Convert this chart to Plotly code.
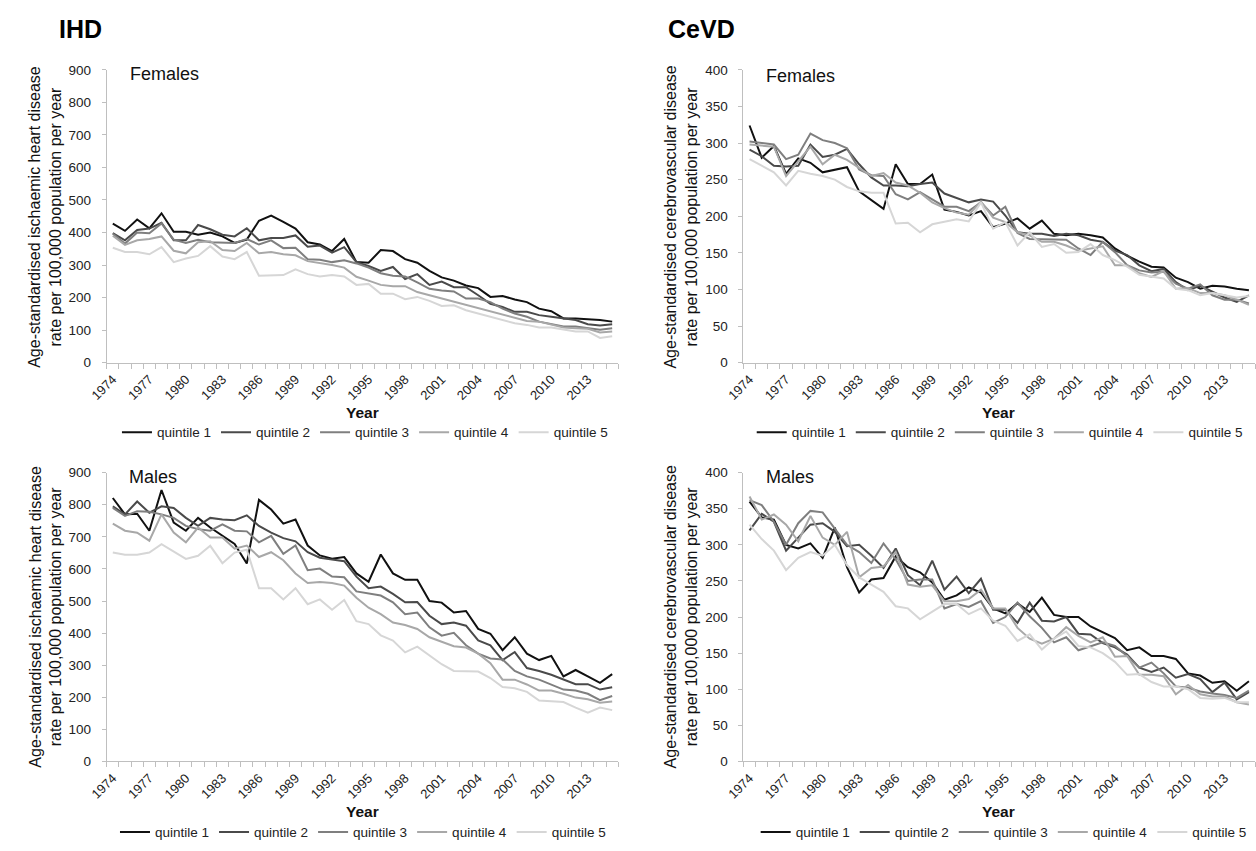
import plotly.graph_objects as go

years = list(range(1974, 2016))
quintile_names = ["quintile 1", "quintile 2", "quintile 3", "quintile 4", "quintile 5"]
quintile_colors = ["#111111", "#4a4a4a", "#7f7f7f", "#a8a8a8", "#d6d6d6"]

ihd_f_q1 = [427,405,440,413,459,402,402,393,400,388, 368,378,436,452,433,412,370,363,343,380,
            309,307,346,343,318,307,282,262,252,237, 229,202,205,194,186,166,158,136,136,134, 131,126]
ihd_f_q2 = [398,376,408,412,430,376,376,423,410,393, 388,413,376,383,383,391,356,360,338,355,
            309,297,282,294,257,272,239,249,232,232, 207,181,171,156,156,146,141,136,131,118, 114,118]
ihd_f_q3 = [396,366,400,398,428,378,368,378,370,370, 368,380,363,376,352,353,318,316,309,315,
            305,292,275,267,265,247,227,222,219,197, 197,186,166,151,141,126,118,111,111,106, 101,106]
ihd_f_q4 = [390,362,376,380,388,344,336,370,373,346, 343,368,336,340,333,330,312,307,300,292,
            264,252,239,235,235,217,207,197,186,178, 168,158,146,136,128,126,116,108,106,104, 93,96]
ihd_f_q5 = [353,340,340,333,355,309,320,328,358,326, 318,340,267,269,269,287,272,265,269,265,
            239,242,212,212,195,202,190,174,176,161, 151,141,131,121,116,108,108,101,96,96, 76,81]

cevd_f_q1 = [324,280,296,258,279,273,260,264,267,234, 222,210,271,244,244,257,209,206,201,207,
             185,190,197,183,194,176,174,176,174,171, 156,146,138,131,130,116,110,101,105,104, 101,99]
cevd_f_q2 = [291,282,269,268,269,298,281,284,292,271, 253,242,242,241,244,246,231,225,219,223,
             220,201,178,176,176,173,176,174,168,165, 153,147,133,125,128,110,99,105,97,89, 83,92]
cevd_f_q3 = [302,300,298,278,284,313,304,300,293,264, 256,255,230,223,233,223,213,213,207,219,
             201,213,177,169,169,168,168,156,147,165, 151,133,126,123,124,108,101,107,92,86, 86,81]
cevd_f_q4 = [298,296,295,255,275,295,271,284,277,266, 255,259,246,242,232,219,211,205,202,220,
             198,192,178,174,165,165,160,153,156,159, 133,133,122,117,125,101,102,95,95,92, 86,79]
cevd_f_q5 = [278,269,260,242,262,258,255,250,240,234, 232,232,190,191,178,189,192,196,193,219,
             183,192,160,178,158,162,150,151,162,147, 140,131,120,117,115,101,99,92,95,92, 89,91]

ihd_m_q1 = [821,770,772,719,846,744,719,759,729,703, 678,617,815,785,741,754,673,642,632,637,
            586,560,645,586,566,566,500,495,464,469, 413,398,347,387,336,316,329,265,285,265, 245,272]
ihd_m_q2 = [795,770,810,775,795,790,759,734,759,754, 752,767,734,713,696,686,652,635,629,624,
            576,540,545,522,496,497,454,428,433,423, 377,362,316,341,291,282,270,255,241,241, 224,231]
ihd_m_q3 = [790,765,780,778,770,759,734,724,719,739, 719,717,683,703,647,673,596,601,576,574,
            530,523,517,496,459,464,418,392,401,362, 336,321,318,282,265,255,240,224,221,211, 191,204]
ihd_m_q4 = [741,719,713,688,770,713,683,729,698,698, 663,673,637,652,627,586,556,559,556,548,
            510,479,459,433,425,413,387,372,359,355, 336,306,255,255,240,221,221,211,199,194, 183,187]
ihd_m_q5 = [651,644,644,651,677,654,631,641,672,618, 651,660,540,540,505,540,490,505,473,503,
            437,428,393,377,340,358,330,303,282,282, 280,260,232,228,217,190,188,185,168,152, 168,160]

cevd_m_q1 = [360,338,335,300,295,302,282,324,269,234, 252,254,284,269,262,248,224,230,241,234,
             212,205,219,207,227,203,200,200,187,179, 171,154,158,146,146,142,122,119,109,111, 98,111]
cevd_m_q2 = [320,343,332,292,310,328,330,318,298,300, 285,268,295,258,244,278,238,256,233,253,
             210,210,192,220,195,194,200,177,176,164, 158,148,130,124,130,116,121,114,96,109, 86,96]
cevd_m_q3 = [362,355,332,300,330,347,345,322,300,290, 275,302,280,250,252,252,212,218,214,222,
             192,200,220,201,185,165,172,154,160,165, 160,146,130,137,122,104,102,97,94,92, 88,98]
cevd_m_q4 = [367,335,342,328,305,340,310,300,318,255, 268,270,290,245,242,244,222,222,225,238,
             212,212,185,170,163,170,186,174,165,172, 145,146,120,120,118,93,106,93,90,90, 82,79]
cevd_m_q5 = [328,308,292,265,282,290,285,300,272,255, 245,235,215,212,197,207,218,218,204,212,
             195,188,167,176,155,170,180,160,158,150, 138,120,121,110,104,104,100,88,87,88, 82,82]

panels = [
    ([ihd_f_q1, ihd_f_q2, ihd_f_q3, ihd_f_q4, ihd_f_q5], "x", "y", "legend"),
    ([cevd_f_q1, cevd_f_q2, cevd_f_q3, cevd_f_q4, cevd_f_q5], "x2", "y2", "legend2"),
    ([ihd_m_q1, ihd_m_q2, ihd_m_q3, ihd_m_q4, ihd_m_q5], "x3", "y3", "legend3"),
    ([cevd_m_q1, cevd_m_q2, cevd_m_q3, cevd_m_q4, cevd_m_q5], "x4", "y4", "legend4"),
]

FONT = "Liberation Sans, Arial, sans-serif"
W, H = 1256, 851

def px(x):
    return x / W

def py(y):
    return 1 - y / H

fig = go.Figure()
for series, xa, ya, lg in panels:
    for i, vals in enumerate(series):
        fig.add_trace(go.Scatter(
            x=years, y=vals, mode="lines", name=quintile_names[i],
            line=dict(color=quintile_colors[i], width=2),
            xaxis=xa, yaxis=ya, legend=lg, showlegend=True,
        ))

axcolor = "#bfbfbf"
xcommon = dict(
    range=[1973.5, 2015.5], tickmode="linear", tick0=1974, dtick=3,
    tickangle=-45, ticks="", ticklen=5, tickcolor=axcolor, ticklabelstandoff=3,
    showline=True, linecolor=axcolor, linewidth=1, showgrid=False, zeroline=False,
    tickfont=dict(family=FONT, size=13, color="#222"),
    minor=dict(tick0=1973.5, dtick=1, ticks="outside", ticklen=5, tickcolor=axcolor, showgrid=False),
)
ycommon = dict(
    ticks="outside", ticklen=4, tickcolor=axcolor, showline=True, linecolor=axcolor,
    linewidth=1, showgrid=False, zeroline=False, ticklabelstandoff=8,
    tickfont=dict(family=FONT, size=13.5, color="#222"),
)

left_dom = [px(90), px(609)]
right_dom = [px(736), px(1255)]
top_dom = [py(362), py(64)]
bot_dom = [py(768), py(474)]

fig.update_layout(
    width=W, height=H, margin=dict(l=0, r=0, t=0, b=0),
    paper_bgcolor="white", plot_bgcolor="white",
    font=dict(family=FONT, color="#222"),
    xaxis=dict(domain=left_dom, anchor="y", **xcommon),
    yaxis=dict(domain=top_dom, anchor="x", range=[0, 900], dtick=100, **ycommon),
    xaxis2=dict(domain=right_dom, anchor="y2", **xcommon),
    yaxis2=dict(domain=top_dom, anchor="x2", range=[0, 400], dtick=50, **ycommon),
    xaxis3=dict(domain=left_dom, anchor="y3", **xcommon),
    yaxis3=dict(domain=bot_dom, anchor="x3", range=[0, 900], dtick=100, **ycommon),
    xaxis4=dict(domain=right_dom, anchor="y4", **xcommon),
    yaxis4=dict(domain=bot_dom, anchor="x4", range=[0, 400], dtick=50, **ycommon),
)

legend_common = dict(orientation="h", xanchor="center", yanchor="middle",
                     font=dict(family=FONT, size=13.5, color="#222"),
                     bgcolor="rgba(0,0,0,0)", itemwidth=30, tracegroupgap=0)
fig.update_layout(
    legend=dict(x=px(352), y=py(433), **legend_common),
    legend2=dict(x=px(996), y=py(433), **legend_common),
    legend3=dict(x=px(350), y=py(840), **legend_common),
    legend4=dict(x=px(1000), y=py(840), **legend_common),
)

ann = []
ann.append(dict(text="<b>IHD</b>", x=px(40), y=py(22), xanchor="left", yanchor="middle",
                font=dict(size=25, family=FONT, color="#000")))
ann.append(dict(text="<b>CeVD</b>", x=px(657), y=py(22), xanchor="left", yanchor="middle",
                font=dict(size=25, family=FONT, color="#000")))
for txt, x, y in [("Females", 112, 68), ("Females", 757, 70), ("Males", 111, 478), ("Males", 757, 478)]:
    ann.append(dict(text=txt, x=px(x), y=py(y), xanchor="left", yanchor="middle",
                    font=dict(size=18, family=FONT, color="#111")))
for x, y in [(350, 413), (995, 413), (350, 819), (995, 819)]:
    ann.append(dict(text="<b>Year</b>", x=px(x), y=py(y), xanchor="center", yanchor="middle",
                    font=dict(size=15.5, family=FONT, color="#111")))
ihd_title = "Age-standardised ischaemic heart disease<br>rate per 100,000 population per year"
cevd_title = "Age-standardised cerebrovascular disease<br>rate per 100,000 population per year"
for txt, x, y in [(ihd_title, 28, 214), (cevd_title, 673, 214), (ihd_title, 28, 621), (cevd_title, 673, 621)]:
    ann.append(dict(text=txt, x=px(x), y=py(y), xanchor="center", yanchor="middle",
                    textangle=-90, font=dict(size=16, family=FONT, color="#111")))
for a in ann:
    a.update(xref="paper", yref="paper", showarrow=False)
fig.update_layout(annotations=ann)

# remove the default 8px page margin so the figure fills the 1256x851 window exactly
fig.write_html("out.html", config={"displayModeBar": False},
               post_script="document.body.style.margin='0';document.body.style.overflow='hidden';")
